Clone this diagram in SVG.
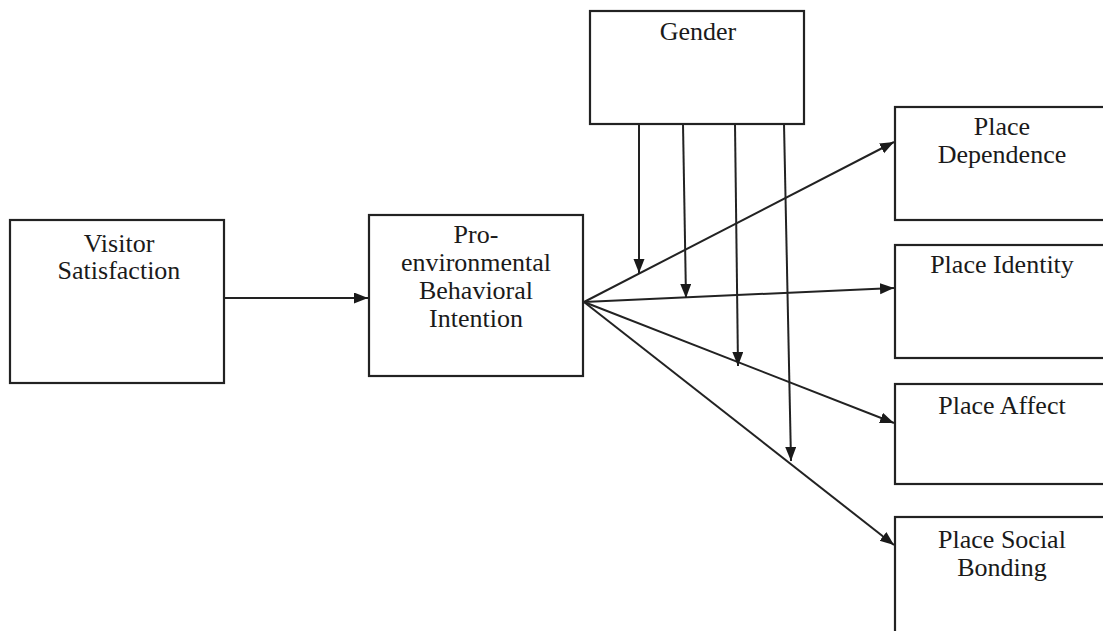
<svg xmlns="http://www.w3.org/2000/svg" width="1103" height="631" viewBox="0 0 1103 631">
  <style>
    .box { fill: #ffffff; stroke: #222222; stroke-width: 2.2; }
    .lbl { font-family: "Liberation Serif", "Times New Roman", serif; font-size: 26px; fill: #1a1a1a; text-anchor: middle; }
    .con { stroke: #222222; stroke-width: 2; fill: none; marker-end: url(#arrow); }
  </style>
  <defs>
    <marker id="arrow" markerUnits="userSpaceOnUse" markerWidth="15" markerHeight="12" refX="14" refY="5.5" orient="auto">
      <path d="M0,0 L14,5.5 L0,11 z" fill="#1a1a1a"/>
    </marker>
  </defs>
  <rect width="1103" height="631" fill="#ffffff"/>

  <g id="node-visitor-satisfaction">
    <rect class="box" x="10" y="220" width="214" height="163"/>
    <text class="lbl" x="119" y="252">Visitor</text>
    <text class="lbl" x="119" y="279">Satisfaction</text>
  </g>

  <g id="node-pro-environmental">
    <rect class="box" x="369" y="215" width="214" height="161"/>
    <text class="lbl" x="476" y="243">Pro-</text>
    <text class="lbl" x="476" y="271">environmental</text>
    <text class="lbl" x="476" y="299">Behavioral</text>
    <text class="lbl" x="476" y="327">Intention</text>
  </g>

  <g id="node-gender">
    <rect class="box" x="590" y="11" width="214" height="113"/>
    <text class="lbl" x="698" y="40">Gender</text>
  </g>

  <g id="node-place-dependence">
    <rect class="box" x="895" y="107" width="214" height="113"/>
    <text class="lbl" x="1002" y="135">Place</text>
    <text class="lbl" x="1002" y="163">Dependence</text>
  </g>

  <g id="node-place-identity">
    <rect class="box" x="895" y="245" width="214" height="113"/>
    <text class="lbl" x="1002" y="273">Place Identity</text>
  </g>

  <g id="node-place-affect">
    <rect class="box" x="895" y="384" width="214" height="100"/>
    <text class="lbl" x="1002" y="414">Place Affect</text>
  </g>

  <g id="node-place-social-bonding">
    <rect class="box" x="895" y="517" width="214" height="130"/>
    <text class="lbl" x="1002" y="548">Place Social</text>
    <text class="lbl" x="1002" y="576">Bonding</text>
  </g>

  <g id="connectors">
    <!-- main path -->
    <line class="con" x1="224" y1="298" x2="368" y2="298"/>
    <!-- fan from intention to place attachment dimensions -->
    <line class="con" x1="584" y1="302" x2="894" y2="142"/>
    <line class="con" x1="584" y1="302" x2="894" y2="288"/>
    <line class="con" x1="584" y1="302" x2="894" y2="423"/>
    <line class="con" x1="584" y1="302" x2="894" y2="545"/>
    <!-- moderating effects of gender -->
    <line class="con" x1="639" y1="124" x2="639" y2="273"/>
    <line class="con" x1="683" y1="124" x2="686" y2="298"/>
    <line class="con" x1="735" y1="124" x2="738" y2="366"/>
    <line class="con" x1="784" y1="124" x2="791" y2="461"/>
  </g>
</svg>
